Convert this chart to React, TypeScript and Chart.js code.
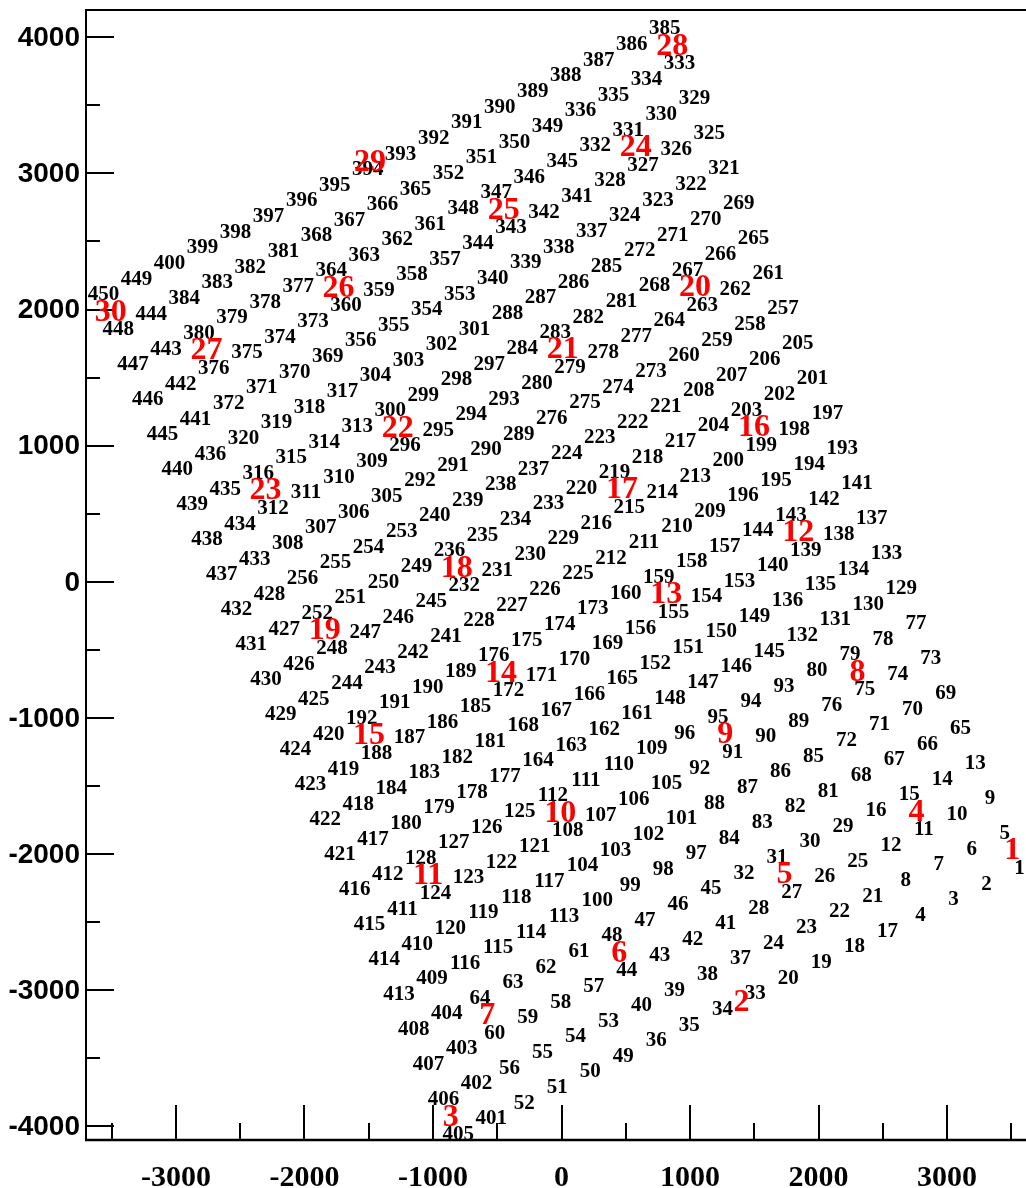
import React, { useEffect, useRef } from "react";
import { Chart, registerables } from "chart.js";

Chart.register(...registerables);

// Axis ranges and ticks
const X_MIN = -3700;
const X_MAX = 3700;
const Y_MIN = -4100;
const Y_MAX = 4200;
const xMajorTicks = [-3000, -2000, -1000, 0, 1000, 2000, 3000];
const xMinorTicks = [-3500, -2500, -1500, -500, 500, 1500, 2500, 3500];
const yMajorTicks = [-4000, -3000, -2000, -1000, 0, 1000, 2000, 3000, 4000];
const yMinorTicks = [-3500, -2500, -1500, -500, 500, 1500, 2500, 3500];

// Cell numbers (black), listed row by row of the rotated grid
const cellLabels = [
  450, 449, 400, 399, 398, 397, 396, 395, 394, 393, 392, 391, 390, 389, 388, 387, 386, 385,
  448, 444, 384, 383, 382, 381, 368, 367, 366, 365, 352, 351, 350, 349, 336, 335, 334, 333,
  447, 443, 380, 379, 378, 377, 364, 363, 362, 361, 348, 347, 346, 345, 332, 331, 330, 329,
  446, 442, 376, 375, 374, 373, 360, 359, 358, 357, 344, 343, 342, 341, 328, 327, 326, 325,
  445, 441, 372, 371, 370, 369, 356, 355, 354, 353, 340, 339, 338, 337, 324, 323, 322, 321,
  440, 436, 320, 319, 318, 317, 304, 303, 302, 301, 288, 287, 286, 285, 272, 271, 270, 269,
  439, 435, 316, 315, 314, 313, 300, 299, 298, 297, 284, 283, 282, 281, 268, 267, 266, 265,
  438, 434, 312, 311, 310, 309, 296, 295, 294, 293, 280, 279, 278, 277, 264, 263, 262, 261,
  437, 433, 308, 307, 306, 305, 292, 291, 290, 289, 276, 275, 274, 273, 260, 259, 258, 257,
  432, 428, 256, 255, 254, 253, 240, 239, 238, 237, 224, 223, 222, 221, 208, 207, 206, 205,
  431, 427, 252, 251, 250, 249, 236, 235, 234, 233, 220, 219, 218, 217, 204, 203, 202, 201,
  430, 426, 248, 247, 246, 245, 232, 231, 230, 229, 216, 215, 214, 213, 200, 199, 198, 197,
  429, 425, 244, 243, 242, 241, 228, 227, 226, 225, 212, 211, 210, 209, 196, 195, 194, 193,
  424, 420, 192, 191, 190, 189, 176, 175, 174, 173, 160, 159, 158, 157, 144, 143, 142, 141,
  423, 419, 188, 187, 186, 185, 172, 171, 170, 169, 156, 155, 154, 153, 140, 139, 138, 137,
  422, 418, 184, 183, 182, 181, 168, 167, 166, 165, 152, 151, 150, 149, 136, 135, 134, 133,
  421, 417, 180, 179, 178, 177, 164, 163, 162, 161, 148, 147, 146, 145, 132, 131, 130, 129,
  416, 412, 128, 127, 126, 125, 112, 111, 110, 109, 96, 95, 94, 93, 80, 79, 78, 77,
  415, 411, 124, 123, 122, 121, 108, 107, 106, 105, 92, 91, 90, 89, 76, 75, 74, 73,
  414, 410, 120, 119, 118, 117, 104, 103, 102, 101, 88, 87, 86, 85, 72, 71, 70, 69,
  413, 409, 116, 115, 114, 113, 100, 99, 98, 97, 84, 83, 82, 81, 68, 67, 66, 65,
  408, 404, 64, 63, 62, 61, 48, 47, 46, 45, 32, 31, 30, 29, 16, 15, 14, 13,
  407, 403, 60, 59, 58, 57, 44, 43, 42, 41, 28, 27, 26, 25, 12, 11, 10, 9,
  406, 402, 56, 55, 54, 53, 40, 39, 38, 37, 24, 23, 22, 21, 8, 7, 6, 5,
  405, 401, 52, 51, 50, 49, 36, 35, 34, 33, 20, 19, 18, 17, 4, 3, 2, 1,
];

const cellX = [
  -3564, -3307, -3050, -2793, -2536, -2279, -2022, -1765, -1508, -1252, -995, -738, -481, -224, 33, 290, 547, 804,
  -3449, -3192, -2935, -2678, -2421, -2164, -1907, -1650, -1393, -1137, -880, -623, -366, -109, 148, 405, 662, 919,
  -3334, -3077, -2820, -2563, -2306, -2049, -1792, -1535, -1278, -1022, -765, -508, -251, 6, 263, 520, 777, 1034,
  -3219, -2962, -2705, -2448, -2191, -1934, -1677, -1420, -1163, -907, -650, -393, -136, 121, 378, 635, 892, 1149,
  -3104, -2847, -2590, -2333, -2076, -1819, -1562, -1305, -1048, -792, -535, -278, -21, 236, 493, 750, 1007, 1264,
  -2989, -2732, -2475, -2218, -1961, -1704, -1447, -1190, -933, -677, -420, -163, 94, 351, 608, 865, 1122, 1379,
  -2874, -2617, -2360, -2103, -1846, -1589, -1332, -1075, -818, -562, -305, -48, 209, 466, 723, 980, 1237, 1494,
  -2759, -2502, -2245, -1988, -1731, -1474, -1217, -960, -703, -447, -190, 67, 324, 581, 838, 1095, 1352, 1609,
  -2644, -2387, -2130, -1873, -1616, -1359, -1102, -845, -588, -332, -75, 182, 439, 696, 953, 1210, 1467, 1724,
  -2529, -2272, -2015, -1758, -1501, -1244, -987, -730, -473, -217, 40, 297, 554, 811, 1068, 1325, 1582, 1839,
  -2414, -2157, -1900, -1643, -1386, -1129, -872, -615, -358, -102, 155, 412, 669, 926, 1183, 1440, 1697, 1954,
  -2299, -2042, -1785, -1528, -1271, -1014, -757, -500, -243, 13, 270, 527, 784, 1041, 1298, 1555, 1812, 2069,
  -2184, -1927, -1670, -1413, -1156, -899, -642, -385, -128, 128, 385, 642, 899, 1156, 1413, 1670, 1927, 2184,
  -2069, -1812, -1555, -1298, -1041, -784, -527, -270, -13, 243, 500, 757, 1014, 1271, 1528, 1785, 2042, 2299,
  -1954, -1697, -1440, -1183, -926, -669, -412, -155, 102, 358, 615, 872, 1129, 1386, 1643, 1900, 2157, 2414,
  -1839, -1582, -1325, -1068, -811, -554, -297, -40, 217, 473, 730, 987, 1244, 1501, 1758, 2015, 2272, 2529,
  -1724, -1467, -1210, -953, -696, -439, -182, 75, 332, 588, 845, 1102, 1359, 1616, 1873, 2130, 2387, 2644,
  -1609, -1352, -1095, -838, -581, -324, -67, 190, 447, 703, 960, 1217, 1474, 1731, 1988, 2245, 2502, 2759,
  -1494, -1237, -980, -723, -466, -209, 48, 305, 562, 818, 1075, 1332, 1589, 1846, 2103, 2360, 2617, 2874,
  -1379, -1122, -865, -608, -351, -94, 163, 420, 677, 933, 1190, 1447, 1704, 1961, 2218, 2475, 2732, 2989,
  -1264, -1007, -750, -493, -236, 21, 278, 535, 792, 1048, 1305, 1562, 1819, 2076, 2333, 2590, 2847, 3104,
  -1149, -892, -635, -378, -121, 136, 393, 650, 907, 1163, 1420, 1677, 1934, 2191, 2448, 2705, 2962, 3219,
  -1034, -777, -520, -263, -6, 251, 508, 765, 1022, 1278, 1535, 1792, 2049, 2306, 2563, 2820, 3077, 3334,
  -919, -662, -405, -148, 109, 366, 623, 880, 1137, 1393, 1650, 1907, 2164, 2421, 2678, 2935, 3192, 3449,
  -804, -547, -290, -33, 224, 481, 738, 995, 1252, 1508, 1765, 2022, 2279, 2536, 2793, 3050, 3307, 3564,
];

const cellY = [
  2107, 2222, 2337, 2452, 2567, 2682, 2797, 2912, 3027, 3141, 3256, 3371, 3486, 3601, 3716, 3831, 3946, 4061,
  1850, 1965, 2080, 2195, 2310, 2425, 2540, 2655, 2770, 2884, 2999, 3114, 3229, 3344, 3459, 3574, 3689, 3804,
  1593, 1708, 1823, 1938, 2053, 2168, 2283, 2398, 2513, 2627, 2742, 2857, 2972, 3087, 3202, 3317, 3432, 3547,
  1336, 1451, 1566, 1681, 1796, 1911, 2026, 2141, 2256, 2370, 2485, 2600, 2715, 2830, 2945, 3060, 3175, 3290,
  1079, 1194, 1309, 1424, 1539, 1654, 1769, 1884, 1999, 2113, 2228, 2343, 2458, 2573, 2688, 2803, 2918, 3033,
  822, 937, 1052, 1167, 1282, 1397, 1512, 1627, 1742, 1856, 1971, 2086, 2201, 2316, 2431, 2546, 2661, 2776,
  565, 680, 795, 910, 1025, 1140, 1255, 1370, 1485, 1599, 1714, 1829, 1944, 2059, 2174, 2289, 2404, 2519,
  308, 423, 538, 653, 768, 883, 998, 1113, 1228, 1342, 1457, 1572, 1687, 1802, 1917, 2032, 2147, 2262,
  51, 166, 281, 396, 511, 626, 741, 856, 971, 1085, 1200, 1315, 1430, 1545, 1660, 1775, 1890, 2005,
  -206, -91, 24, 139, 254, 369, 484, 599, 714, 828, 943, 1058, 1173, 1288, 1403, 1518, 1633, 1748,
  -463, -348, -233, -118, -3, 112, 227, 342, 457, 571, 686, 801, 916, 1031, 1146, 1261, 1376, 1491,
  -720, -605, -490, -375, -260, -145, -30, 85, 200, 314, 429, 544, 659, 774, 889, 1004, 1119, 1234,
  -977, -862, -747, -632, -517, -402, -287, -172, -57, 57, 172, 287, 402, 517, 632, 747, 862, 977,
  -1234, -1119, -1004, -889, -774, -659, -544, -429, -314, -200, -85, 30, 145, 260, 375, 490, 605, 720,
  -1491, -1376, -1261, -1146, -1031, -916, -801, -686, -571, -457, -342, -227, -112, 3, 118, 233, 348, 463,
  -1748, -1633, -1518, -1403, -1288, -1173, -1058, -943, -828, -714, -599, -484, -369, -254, -139, -24, 91, 206,
  -2005, -1890, -1775, -1660, -1545, -1430, -1315, -1200, -1085, -971, -856, -741, -626, -511, -396, -281, -166, -51,
  -2262, -2147, -2032, -1917, -1802, -1687, -1572, -1457, -1342, -1228, -1113, -998, -883, -768, -653, -538, -423, -308,
  -2519, -2404, -2289, -2174, -2059, -1944, -1829, -1714, -1599, -1485, -1370, -1255, -1140, -1025, -910, -795, -680, -565,
  -2776, -2661, -2546, -2431, -2316, -2201, -2086, -1971, -1856, -1742, -1627, -1512, -1397, -1282, -1167, -1052, -937, -822,
  -3033, -2918, -2803, -2688, -2573, -2458, -2343, -2228, -2113, -1999, -1884, -1769, -1654, -1539, -1424, -1309, -1194, -1079,
  -3290, -3175, -3060, -2945, -2830, -2715, -2600, -2485, -2370, -2256, -2141, -2026, -1911, -1796, -1681, -1566, -1451, -1336,
  -3547, -3432, -3317, -3202, -3087, -2972, -2857, -2742, -2627, -2513, -2398, -2283, -2168, -2053, -1938, -1823, -1708, -1593,
  -3804, -3689, -3574, -3459, -3344, -3229, -3114, -2999, -2884, -2770, -2655, -2540, -2425, -2310, -2195, -2080, -1965, -1850,
  -4061, -3946, -3831, -3716, -3601, -3486, -3371, -3256, -3141, -3027, -2912, -2797, -2682, -2567, -2452, -2337, -2222, -2107,
];

// Module numbers (red)
const moduleLabels = [
  1, 2, 3, 4, 5, 6, 7, 8, 9, 10, 11, 12, 13, 14, 15,
  16, 17, 18, 19, 20, 21, 22, 23, 24, 25, 26, 27, 28, 29, 30,
];
const moduleX = [
  3507, 1400, -862, 2763, 1735, 450, -578, 2303, 1275, -10, -1038, 1843, 815, -470, -1498,
  1498, 470, -815, -1843, 1038, 10, -1275, -2303, 578, -450, -1735, -2763, 862, -1490, -3507,
];
const moduleY = [
  -1978, -3090, -3933, -1694, -2154, -2729, -3189, -666, -1126, -1701, -2161, 362, -98, -673, -1133,
  1133, 673, 98, -362, 2161, 1701, 1126, 666, 3189, 2729, 2154, 1694, 3933, 3075, 1978,
];

const SERIF = '"Liberation Serif", "Times New Roman", Times, serif';
const SANS = '"Liberation Sans", Arial, Helvetica, sans-serif';

const rootStylePlugin = {
  id: "rootStyle",
  beforeDatasetsDraw(chart: any) {
    const { ctx, chartArea: ca, scales } = chart;
    const xs = scales.x;
    const ys = scales.y;
    ctx.save();
    ctx.strokeStyle = "#000";
    ctx.lineWidth = 2;
    // frame
    ctx.beginPath();
    ctx.moveTo(ca.left, ca.bottom);
    ctx.lineTo(ca.left, ca.top);
    ctx.lineTo(ca.right, ca.top);
    ctx.lineTo(ca.right, ca.bottom);
    ctx.stroke();
    ctx.lineWidth = 2.5;
    ctx.beginPath();
    ctx.moveTo(ca.left - 1, ca.bottom);
    ctx.lineTo(ca.right, ca.bottom);
    ctx.stroke();
    // ticks
    ctx.lineWidth = 2;
    ctx.beginPath();
    for (const v of yMajorTicks) {
      const py = Math.round(ys.getPixelForValue(v));
      ctx.moveTo(ca.left, py);
      ctx.lineTo(ca.left + 28, py);
    }
    for (const v of yMinorTicks) {
      const py = Math.round(ys.getPixelForValue(v));
      ctx.moveTo(ca.left, py);
      ctx.lineTo(ca.left + 14, py);
    }
    for (const v of xMajorTicks) {
      const px = Math.round(xs.getPixelForValue(v));
      ctx.moveTo(px, ca.bottom);
      ctx.lineTo(px, ca.bottom - 35);
    }
    for (const v of xMinorTicks) {
      const px = Math.round(xs.getPixelForValue(v));
      ctx.moveTo(px, ca.bottom);
      ctx.lineTo(px, ca.bottom - 17);
    }
    ctx.stroke();
    // tick labels
    ctx.fillStyle = "#000";
    ctx.font = `bold 28px ${SANS}`;
    ctx.textAlign = "right";
    ctx.textBaseline = "middle";
    for (const v of yMajorTicks) {
      const py = ys.getPixelForValue(v);
      ctx.fillText(String(v), ca.left - 6, py + 1);
    }
    ctx.font = `bold 30px ${SERIF}`;
    ctx.textAlign = "center";
    ctx.textBaseline = "alphabetic";
    for (const v of xMajorTicks) {
      const px = xs.getPixelForValue(v);
      ctx.fillText(String(v), px, ca.bottom + 46);
    }
    ctx.restore();
  },
  afterDatasetsDraw(chart: any) {
    const { ctx } = chart;
    ctx.save();
    ctx.textAlign = "center";
    ctx.textBaseline = "middle";
    const cells = chart.getDatasetMeta(0).data;
    ctx.font = `bold 21px ${SERIF}`;
    ctx.fillStyle = "#000";
    cells.forEach((el: any, i: number) => {
      ctx.fillText(String(cellLabels[i]), el.x, el.y);
    });
    const mods = chart.getDatasetMeta(1).data;
    ctx.font = `bold 32px ${SERIF}`;
    ctx.fillStyle = "#ff0000";
    mods.forEach((el: any, i: number) => {
      ctx.fillText(String(moduleLabels[i]), el.x, el.y);
    });
    ctx.restore();
  },
};

export default function App() {
  const canvasRef = useRef<HTMLCanvasElement | null>(null);

  useEffect(() => {
    const canvas = canvasRef.current;
    if (!canvas) return;
    const chart = new Chart(canvas, {
      type: "scatter",
      data: {
        datasets: [
          {
            label: "cells",
            data: cellX.map((x, i) => ({ x, y: cellY[i] })),
            pointRadius: 0,
            pointHoverRadius: 0,
          },
          {
            label: "modules",
            data: moduleX.map((x, i) => ({ x, y: moduleY[i] })),
            pointRadius: 0,
            pointHoverRadius: 0,
          },
        ],
      },
      options: {
        animation: false,
        responsive: false,
        devicePixelRatio: 1,
        layout: { padding: { left: 86, right: 3, top: 10, bottom: 48 } },
        plugins: { legend: { display: false }, tooltip: { enabled: false } },
        events: [],
        scales: {
          x: { type: "linear", display: false, min: X_MIN, max: X_MAX },
          y: { type: "linear", display: false, min: Y_MIN, max: Y_MAX },
        },
      },
      plugins: [rootStylePlugin],
    });
    return () => chart.destroy();
  }, []);

  return (
    <div
      style={{
        position: "absolute",
        left: 0,
        top: 0,
        width: 1026,
        height: 1188,
        overflow: "hidden",
        background: "#fff",
      }}
    >
      <canvas
        ref={canvasRef}
        width={1040}
        height={1188}
        style={{ width: 1040, height: 1188, display: "block" }}
      />
    </div>
  );
}
